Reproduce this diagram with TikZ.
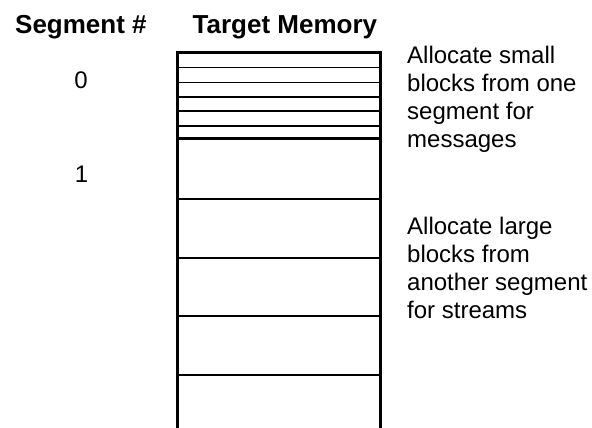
\documentclass[tikz,border=0pt]{standalone}
\usepackage{fontspec}
\setmainfont{Liberation Sans}
\begin{document}
\begin{tikzpicture}[x=1bp,y=-1bp,
  hdr/.style={font=\fontsize{26bp}{30bp}\selectfont\bfseries, inner sep=0pt, anchor=base west},
  body/.style={font=\fontsize{24bp}{28bp}\selectfont, inner sep=0pt, anchor=base west, align=left},
  num/.style={font=\fontsize{24bp}{28bp}\selectfont, inner sep=0pt, anchor=base},
  outer/.style={line width=3bp, black},
  thin/.style={line width=1.6bp, black}]
\useasboundingbox (0,0) rectangle (592,427);
\path[fill=white] (0,0) rectangle (592,427);
% headers
\node[hdr] (seghdr) at (15,33.3) {Segment \#};
\node[hdr] (memhdr) at (192.5,33.3) {Target Memory};
% segment numbers
\node[num] (s0) at (81,88.3) {0};
\node[num] (s1) at (81.5,182.7) {1};
% memory column
\begin{scope}
\clip (0,0) rectangle (592,427);
\foreach \y in {67.3,82.3,96.7,111,126,199,257.7,316,374.7}
  \draw[thin] (177.5,\y) -- (380.5,\y);
\draw[outer] (177.5,52.2) -- (380.5,52.2);
\draw[outer] (177.5,138) -- (380.5,138);
\draw[outer] (177.5,440) -- (177.5,50.7);
\draw[outer] (380.5,440) -- (380.5,50.7);
\end{scope}
% descriptions (base anchor = baseline of last line)
\node[body] (small) at (407,147) {Allocate small\\blocks from one\\segment for\\messages};
\node[body] (large) at (407,318) {Allocate large\\blocks from\\another segment\\for streams};
\end{tikzpicture}
\end{document}
